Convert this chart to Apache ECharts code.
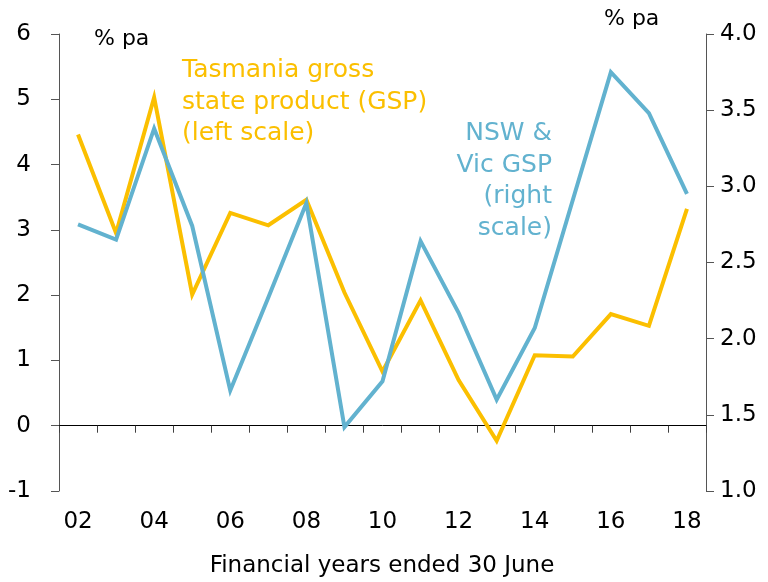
<!DOCTYPE html>
<html>
<head>
<meta charset="utf-8">
<script src="https://cdn.jsdelivr.net/npm/echarts@6/dist/echarts.min.js"></script>
<style>
  html, body { margin: 0; padding: 0; background: #fff; }
  #chart { width: 768px; height: 582px; }
</style>
</head>
<body>
<div id="chart"></div>
<script>
// 财年（截至6月30日）
const years = ['02', '03', '04', '05', '06', '07', '08', '09', '10', '11', '12', '13', '14', '15', '16', '17', '18']
// 塔斯马尼亚 GSP，左轴
const tasGsp = [4.46, 2.95, 5.03, 2.01, 3.26, 3.07, 3.46, 2.04, 0.83, 1.92, 0.70, -0.23, 1.08, 1.06, 1.71, 1.53, 3.32]
// NSW & Vic GSP，右轴
const nswVicGsp = [2.75, 2.65, 3.38, 2.74, 1.66, 2.27, 2.89, 1.42, 1.72, 2.64, 2.17, 1.60, 2.07, 2.91, 3.75, 3.48, 2.95]

const FONT = 'DejaVu Sans'
const YELLOW = '#FBBF00'
const BLUE = '#62B2CF'

const chart = echarts.init(document.getElementById('chart'))

const option = {
  animation: false,
  textStyle: { fontFamily: FONT },
  grid: { left: 59, right: 62, top: 34, bottom: 91 },
  xAxis: [
    {
      type: 'category',
      data: years,
      boundaryGap: true,
      axisLine: { onZero: true, lineStyle: { color: '#000', width: 1 } },
      axisTick: { show: true, interval: 0, length: 7, lineStyle: { color: '#404040' } },
      axisLabel: { show: false }
    },
    {
      type: 'category',
      data: years,
      position: 'bottom',
      boundaryGap: true,
      axisLine: { show: false, onZero: false },
      axisTick: { show: false },
      axisLabel: { interval: 1, fontSize: 23, color: '#000', margin: 20, fontFamily: FONT }
    }
  ],
  yAxis: [
    {
      type: 'value',
      min: -1, max: 6, interval: 1,
      position: 'left',
      splitLine: { show: false },
      axisLine: { show: true, lineStyle: { color: '#555' } },
      axisTick: { show: true, length: 8, lineStyle: { color: '#555' } },
      axisLabel: { fontSize: 23, color: '#000', margin: 28, fontFamily: FONT }
    },
    {
      type: 'value',
      min: 1, max: 4, interval: 0.5,
      position: 'right',
      splitLine: { show: false },
      axisLine: { show: true, lineStyle: { color: '#555' } },
      axisTick: { show: true, length: 8, lineStyle: { color: '#555' } },
      axisLabel: { fontSize: 23, color: '#000', margin: 14, fontFamily: FONT,
        formatter: v => v.toFixed(1) }
    }
  ],
  series: [
    {
      name: 'Tasmania GSP',
      type: 'line',
      data: tasGsp,
      xAxisIndex: 0, yAxisIndex: 0,
      symbol: 'none',
      lineStyle: { color: YELLOW, width: 4, join: 'miter' },
      z: 2
    },
    {
      name: 'NSW & Vic GSP',
      type: 'line',
      data: nswVicGsp,
      xAxisIndex: 0, yAxisIndex: 1,
      symbol: 'none',
      lineStyle: { color: BLUE, width: 4, join: 'miter' },
      z: 3
    }
  ],
  graphic: [
    { type: 'text', left: 94, top: 28,
      style: { text: '% pa', fontSize: 22, fill: '#000', fontFamily: FONT } },
    { type: 'text', left: 604, top: 8,
      style: { text: '% pa', fontSize: 22, fill: '#000', fontFamily: FONT } },
    { type: 'text', left: 182, top: 55,
      style: { text: 'Tasmania gross\nstate product (GSP)\n(left scale)', fontSize: 25,
        lineHeight: 31.5, fill: YELLOW, fontFamily: FONT } },
    { type: 'text', x: 552, y: 118,
      style: { text: 'NSW &\nVic GSP\n(right\nscale)', fontSize: 25, lineHeight: 31.5,
        align: 'right', fill: BLUE, fontFamily: FONT } },
    { type: 'text', x: 382, y: 555,
      style: { text: 'Financial years ended 30 June', fontSize: 23, align: 'center',
        fill: '#000', fontFamily: FONT } }
  ]
}

chart.setOption(option)
</script>
</body>
</html>
